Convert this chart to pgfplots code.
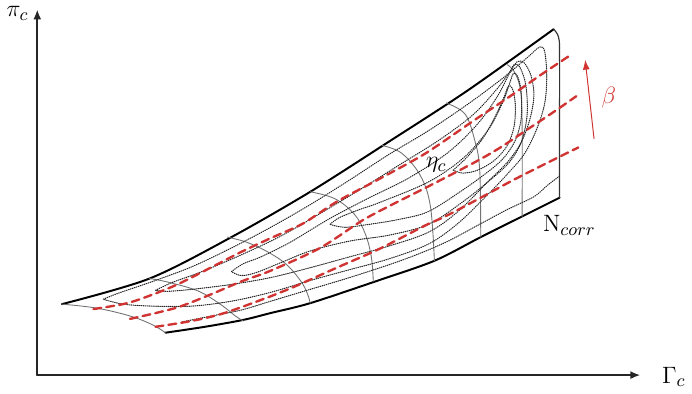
\documentclass[border=0pt]{standalone}
\usepackage{pgfplots}
\pgfplotsset{compat=1.18}
\usetikzlibrary{arrows.meta}

\definecolor{betared}{RGB}{208,52,50}
\definecolor{speedgray}{RGB}{115,115,115}
\tikzset{lbl/.style={font=\fontsize{12.5}{15}\selectfont}}

\begin{document}
\begin{tikzpicture}
\begin{axis}[
    scale only axis,
    width=346pt, height=201pt,
    xmin=0, xmax=692, ymin=0, ymax=402,
    y dir=reverse,
    hide axis,
    clip=false,
    every axis plot/.append style={line join=round, line cap=round},
    surge/.style={black, line width=1pt},
    speed/.style={speedgray, line width=0.45pt, smooth, tension=0.6},
    eff/.style={black!85, line width=0.55pt, dash pattern=on 0.35pt off 0.7pt, smooth, tension=0.55},
    beta/.style={betared, line width=1.2pt, dash pattern=on 4pt off 2.6pt, smooth, tension=0.5},
]
% axes
\addplot[black!85, line width=0.9pt, -{Latex[length=5pt,width=4pt]}] coordinates {(43,388) (43,17)};
\addplot[black!85, line width=0.9pt, -{Latex[length=5pt,width=4pt]}] coordinates {(43,388) (655,388)};

% surge line (upper boundary)
\addplot[surge, smooth, tension=0.5] coordinates {
 (68,316) (157,290) (240,248) (320,202) (400,151) (480,99) (567,37)};
% choke line (lower boundary)
\addplot[surge, smooth, tension=0.5] coordinates {
 (173,345) (213,339) (252,332) (280,325) (320,315) (386,293) (446,272)
 (493,248) (535,227) (573,208)};
% right boundary
\addplot[black!80, line width=0.6pt, smooth, tension=0.6] coordinates {
 (567,37) (572,45) (573,63) (573,140) (573,208)};
% lower-left boundary
\addplot[speed] coordinates {(68,316) (103,320) (137,328) (160,337) (173,345)};

% corrected speed lines
\addplot[speed] coordinates {(157,290) (177,294) (207,303) (230,317) (244,328) (252,333)};
\addplot[speed] coordinates {(236,248) (255,253) (275,262) (295,275) (310,292) (317,305) (320,315)};
\addplot[speed] coordinates {(320,202) (345,209) (365,225) (376,245) (382,268) (384,293)};
\addplot[speed] coordinates {(393,155) (413,163) (432,186) (442,217) (446,272)};
\addplot[speed] coordinates {(458,112) (477,123) (487,150) (492,180) (493,248)};
\addplot[speed] coordinates {(520,73) (527,80) (533,97) (535,130) (535,227)};

% efficiency contours
\addplot[eff] coordinates {
 (110,311) (125,305) (160,293) (200,278) (240,259) (280,238) (320,215) (360,190)
 (400,164) (440,140) (480,113) (515,87) (540,66) (553,55) (558,60) (560,85)
 (558,112) (550,138) (537,164) (520,184) (500,205) (470,234) (440,255) (400,270)
 (360,281) (320,292) (280,304) (240,313) (200,318) (160,318) (130,316) (110,311)};
\addplot[eff] coordinates {
 (163,302) (180,294) (210,283) (250,266) (290,247) (330,224) (370,200) (410,175)
 (450,150) (485,124) (510,97) (524,78) (530,70) (537,71) (544,84) (547,104)
 (543,128) (534,152) (520,172) (500,192) (470,222) (440,243) (400,257) (360,268)
 (320,279) (280,289) (240,296) (200,301) (175,303) (163,302)};
\addplot[eff] coordinates {
 (240,283) (252,275) (270,268) (300,253) (340,229) (380,208) (420,188) (460,162)
 (490,133) (510,105) (522,82) (527,73) (533,76) (539,95) (540,125) (534,152)
 (522,172) (505,188) (475,212) (440,235) (400,246) (360,252) (320,262) (290,274)
 (265,284) (250,287) (240,283)};
\addplot[eff] coordinates {
 (340,235) (350,228) (370,220) (390,213) (440,192) (475,168) (500,140) (515,112)
 (523,90) (526,82) (530,84) (534,100) (534,128) (528,150) (516,168) (500,182)
 (475,200) (440,222) (410,230) (380,235) (355,238) (340,235)};
\addplot[eff] coordinates {
 (465,180) (478,168) (495,148) (508,125) (517,105) (521,95) (525,97) (528,112)
 (527,135) (520,155) (507,170) (490,180) (475,183) (465,180)};
\addplot[eff] coordinates {
 (573,186) (560,196) (547,207) (520,220) (490,236) (460,252) (430,265) (400,276)
 (360,289) (320,301) (280,313) (250,322) (220,328) (190,334)};

% beta lines
\addplot[beta] coordinates {
 (100,321) (130,316) (150,310) (183,297) (217,280) (250,263) (280,249) (313,234)
 (347,212) (390,189) (437,163) (487,129) (520,107) (553,84) (583,64)};
\addplot[beta] coordinates {
 (137,331) (183,320) (217,307) (250,293) (280,282) (330,259) (373,231) (407,213)
 (437,198) (487,172) (513,157) (540,139) (567,121) (590,105)};
\addplot[beta] coordinates {
 (163,339) (200,333) (233,325) (280,308) (300,300) (347,279) (390,260) (437,236)
 (457,227) (493,208) (530,188) (592,157)};

% beta arrow
\addplot[betared, line width=0.5pt, -{Latex[length=5pt,width=3.5pt]}] coordinates {(608,148) (599,68)};

% labels
\node[lbl] at (axis cs:23,21) {$\pi_c$};
\node[lbl, anchor=west] at (axis cs:670,390) {$\Gamma_c$};
\node[lbl] at (axis cs:448,175) {$\eta_c$};
\node[lbl] at (axis cs:583,236) {$\mathrm{N}_{corr}$};
\node[lbl, text=betared] at (axis cs:623,106) {$\beta$};
\end{axis}
\end{tikzpicture}
\end{document}
